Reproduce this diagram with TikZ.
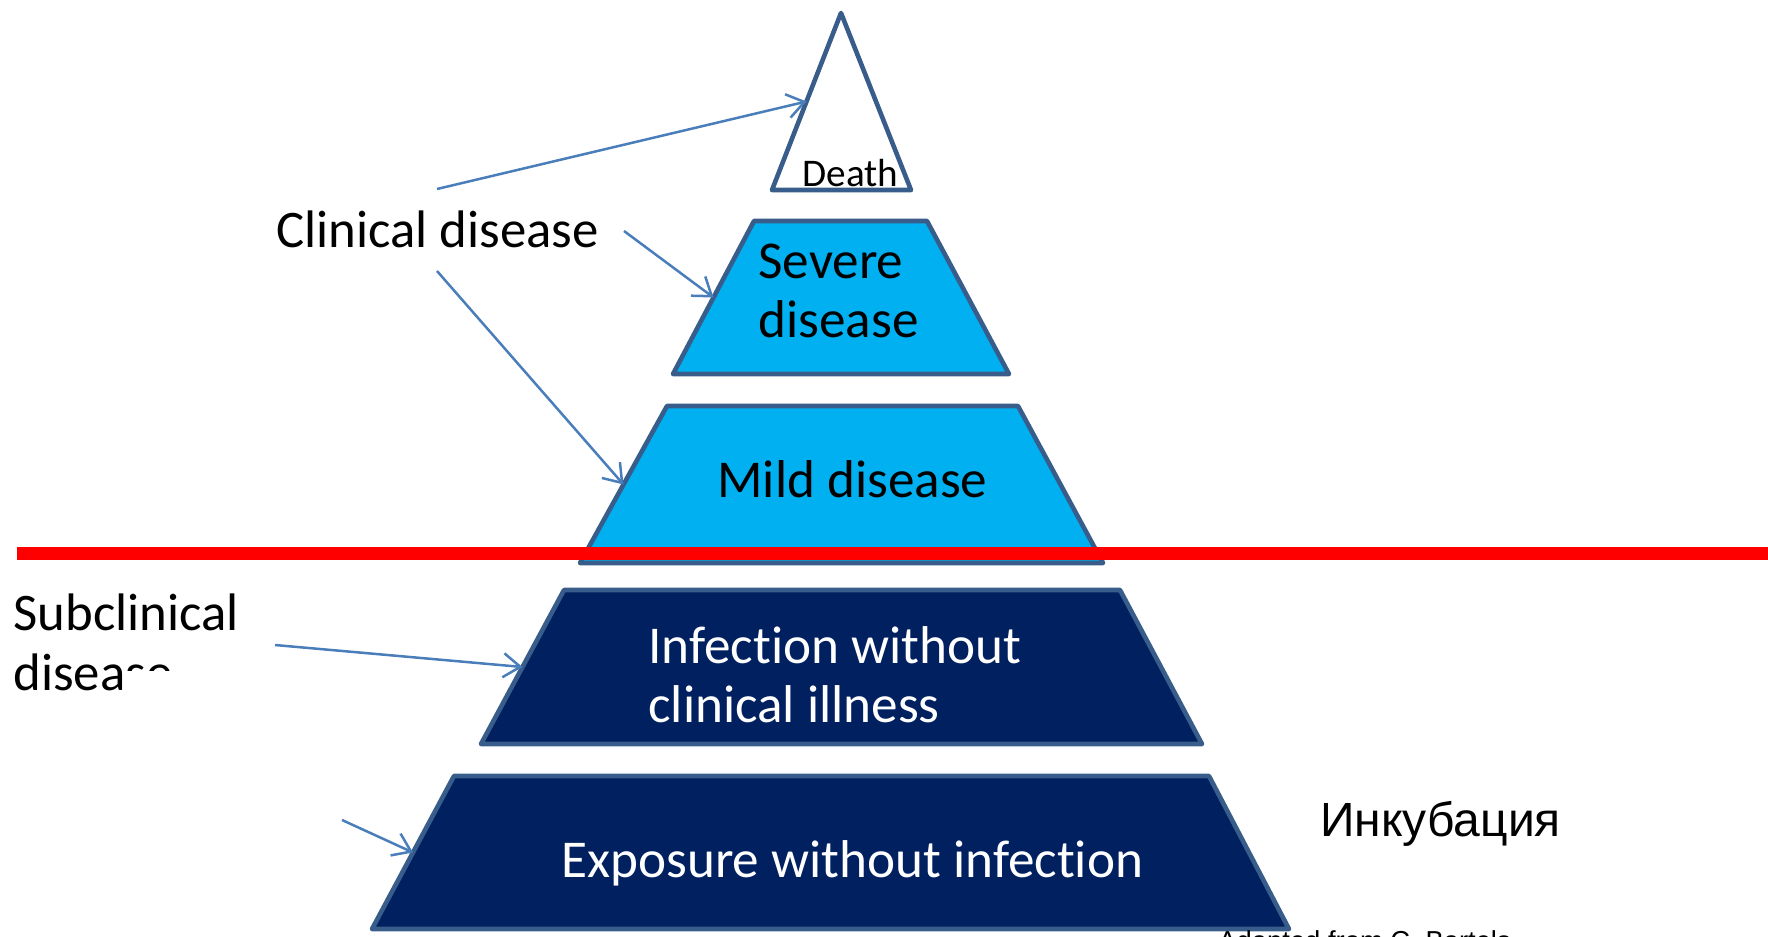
\documentclass[tikz,border=0pt]{standalone}
\usepackage{fontspec}
\setmainfont[Ligatures=NoCommon]{Carlito}
\newfontfamily\arialfont{Liberation Sans}
\usepackage{tikz}
\usetikzlibrary{arrows.meta}
\definecolor{pyrline}{HTML}{385D8A}
\definecolor{pyrlight}{HTML}{00B0F0}
\definecolor{pyrdark}{HTML}{002060}
\definecolor{pointerblue}{HTML}{4A7EBB}
\tikzstyle{tier} = [draw=pyrline, line width=2.3pt, line join=round]
\tikzstyle{lighttier} = [tier, fill=pyrlight]
\tikzstyle{darktier} = [tier, fill=pyrdark]
\tikzstyle{pointer} = [draw=pointerblue, line width=1.25pt, -{Straight Barb[length=8.5pt,width=12pt]}]
\tikzstyle{tiertext} = [inner sep=0pt, anchor=base west, align=left, font=\fontsize{26.6}{29.5}\selectfont]
\tikzstyle{sidetext} = [inner sep=0pt, anchor=base west, align=left, font=\fontsize{26.4}{30}\selectfont]

\begin{document}
\begin{tikzpicture}[x=0.5pt, y=-0.5pt]
	\useasboundingbox (0,0) rectangle (1768,937);
	\clip (0,0) rectangle (1768,937);
	% pyramid
	\draw[tier] (841,13) -- (911,190) -- (772,190) -- cycle;
	\draw[lighttier] (754,221) -- (927,221) -- (1009,374) -- (673,374) -- cycle;
	\draw[lighttier] (667,406) -- (1018,406) -- (1103,563) -- (580,563) -- cycle;
	\draw[darktier] (564,590) -- (1120,590) -- (1202,744) -- (481,744) -- cycle;
	\draw[darktier] (454,776) -- (1209,776) -- (1289,929) -- (372,929) -- cycle;
	\coordinate (deathside) at (806.5,101.5);
	\coordinate (severeside) at (713.5,297.5);
	\coordinate (mildside) at (623.5,484.5);
	\coordinate (infectside) at (522.5,667);
	\coordinate (exposeside) at (413,852.5);
	\fill[red] (17,546.5) rectangle (1768,559.5);
	% texts (base of a two-line node is its last line)
	\node[tiertext, font=\fontsize{19.6}{22}\selectfont] (death) at (802,186) {Death};
	\node[tiertext] (severe) at (758,337) {Severe\\disease};
	\node[tiertext] (mild) at (717,497) {Mild disease};
	\node[tiertext, text=white] (infect) at (648,722) {Infection without\\clinical illness};
	\node[tiertext, text=white] (expose) at (561,877) {Exposure without infection};
	\node[sidetext] (clinical) at (276,247) {Clinical disease};
	\node[sidetext] (subclin) at (13,690) {Subclinical\\disease};
	\fill[white] (127,671) rectangle (420,730);
	\node[inner sep=0pt, anchor=base west, font=\arialfont\fontsize{24}{26}\selectfont] (incub) at (1320,836) {Инкубация};
	\node[inner sep=0pt, anchor=base west, font=\arialfont\fontsize{13.7}{16}\selectfont] (source) at (1218,950) {Adapted from C. Bartels};
	% pointers
	\coordinate (clinup) at (437,189);
	\coordinate (clinright) at (624,231);
	\coordinate (clindown) at (437,271);
	\coordinate (subright) at (275,645);
	\coordinate (exposeleft) at (342,820);
	\draw[pointer] (clinup) -- (deathside);
	\draw[pointer] (clinright) -- (severeside);
	\draw[pointer] (clindown) -- (mildside);
	\draw[pointer] (subright) -- (infectside);
	\draw[pointer] (exposeleft) -- (exposeside);
\end{tikzpicture}
\end{document}
